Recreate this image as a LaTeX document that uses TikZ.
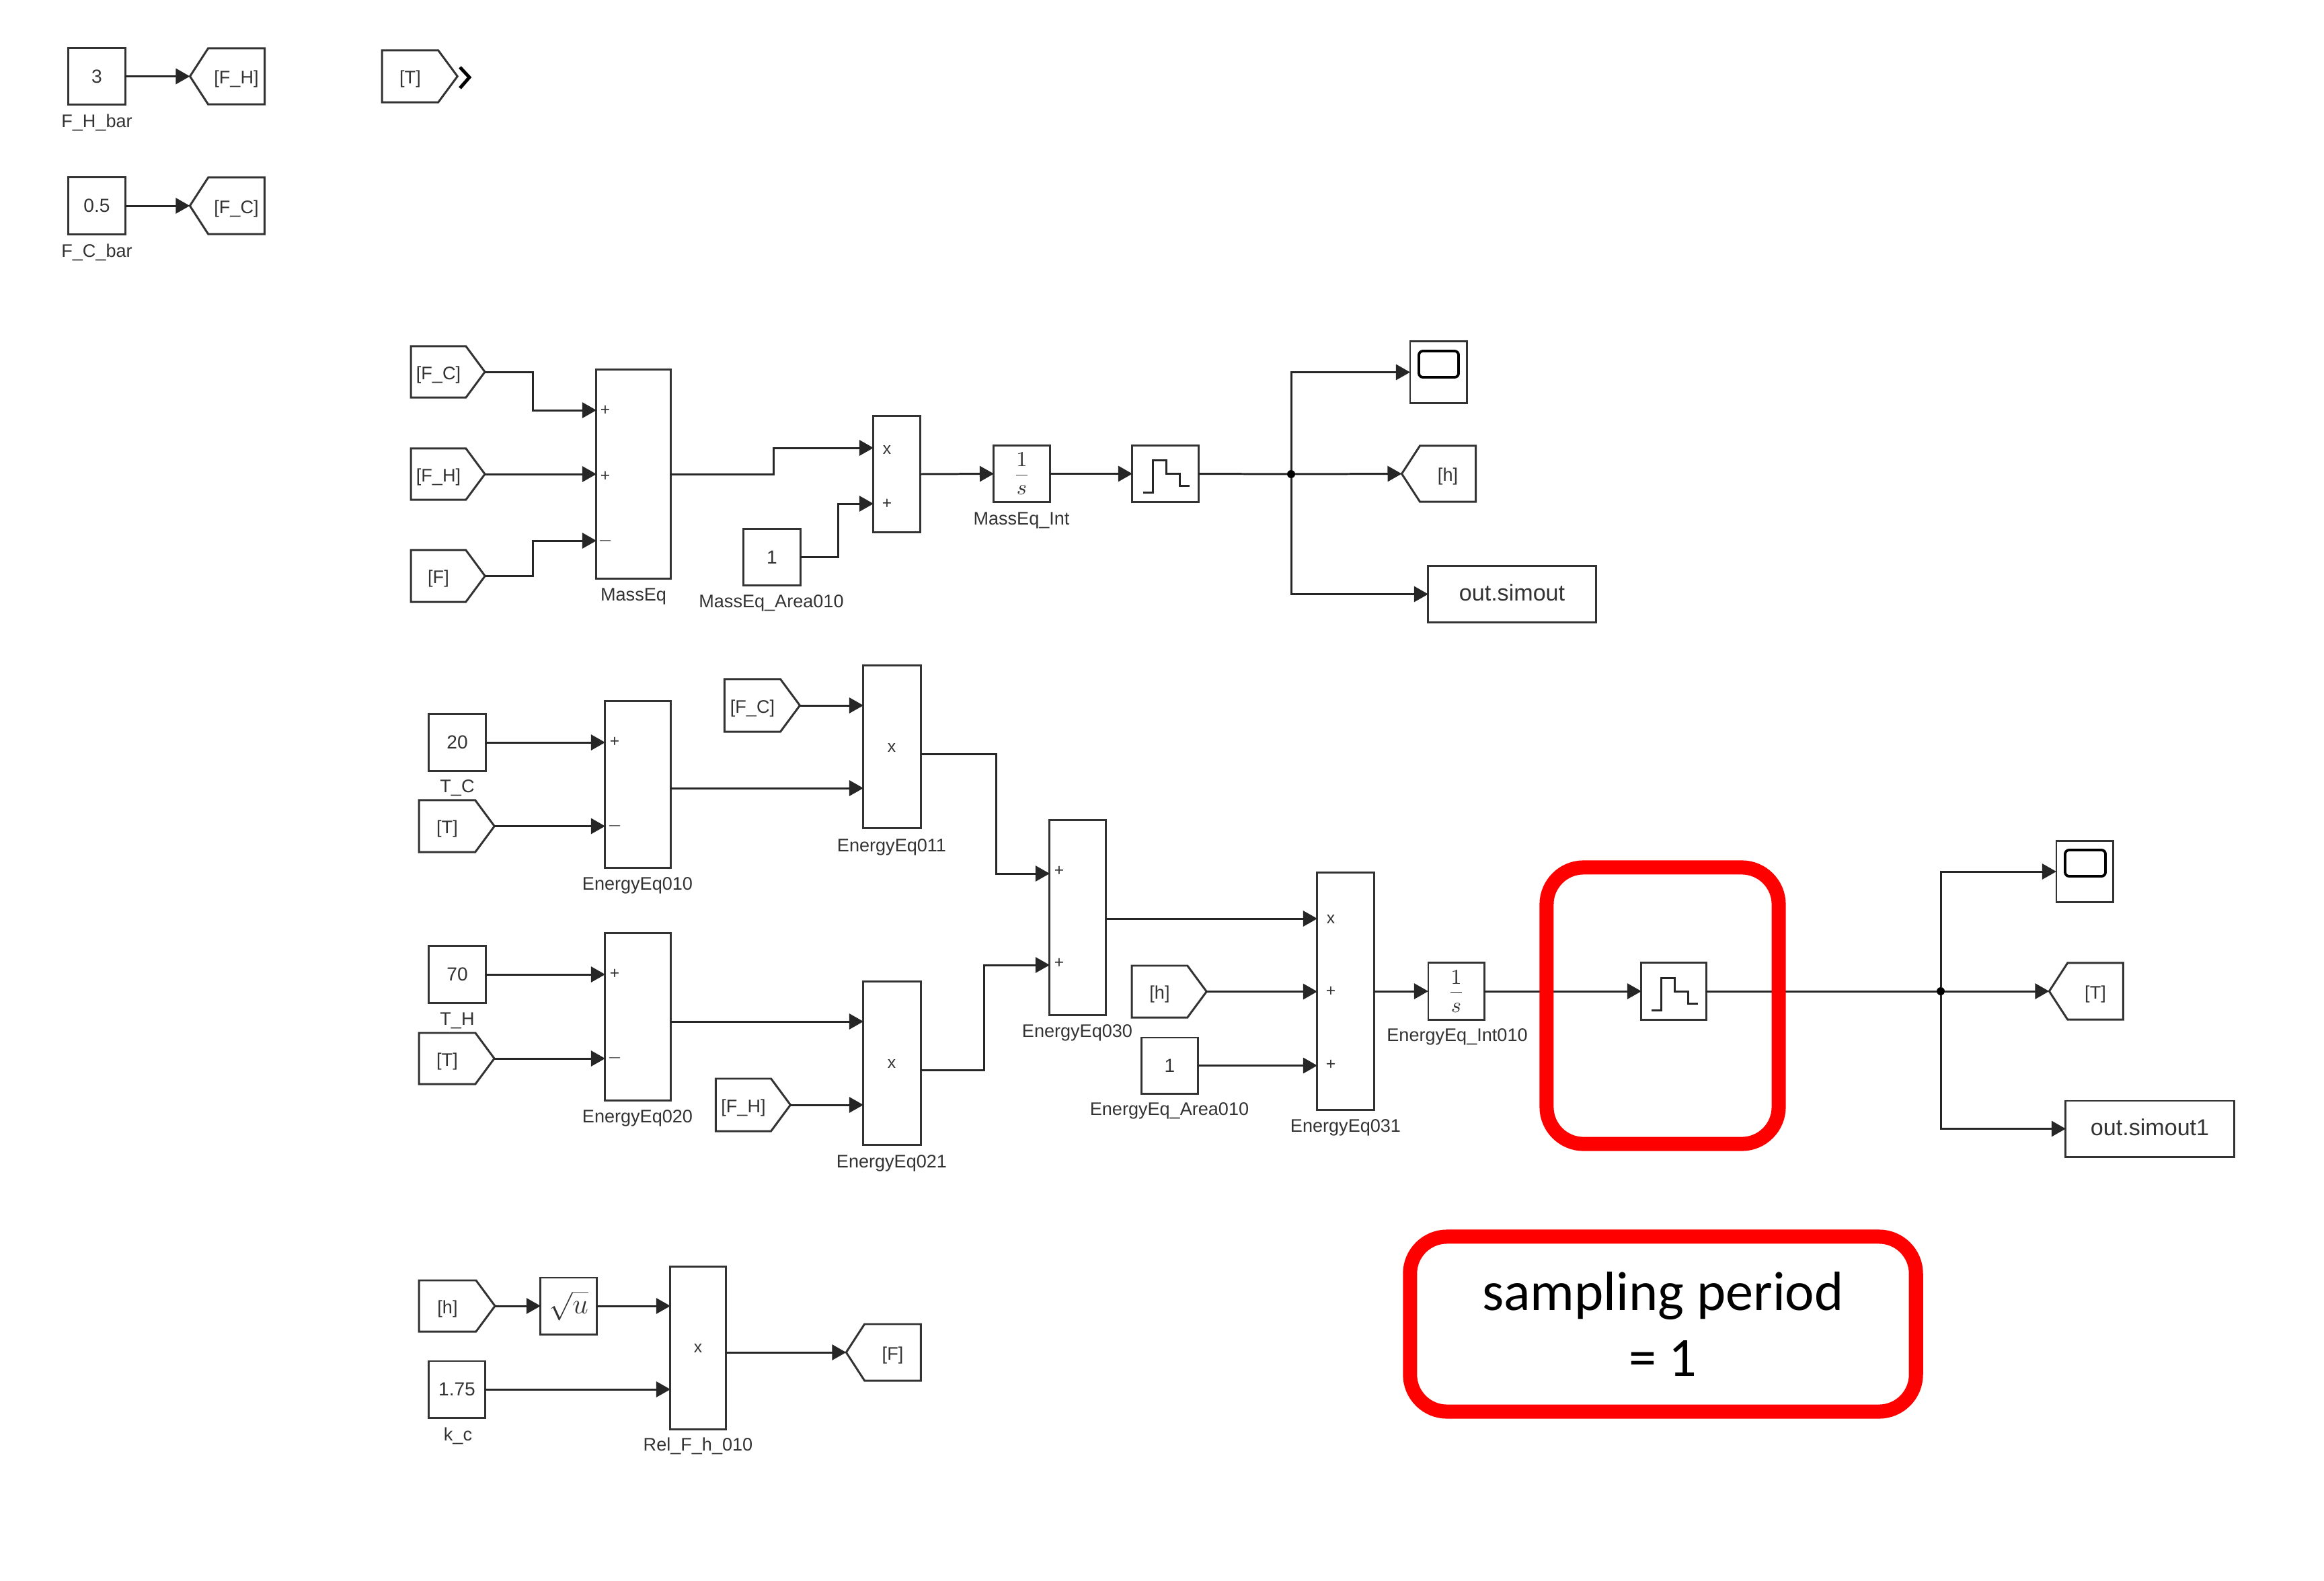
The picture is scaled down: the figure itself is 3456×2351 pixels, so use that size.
\documentclass[tikz,border=0pt]{standalone}
\usepackage{amsmath}
\usepackage{fontspec}
\setmainfont{Liberation Sans}
\newfontfamily\calfont{Carlito}
\usetikzlibrary{arrows.meta,shapes.symbols,shapes.geometric}
\definecolor{simgray}{gray}{0.2}
\tikzset{
blk/.style={draw=simgray,line width=0.85pt,rectangle,inner sep=0pt,outer sep=0pt,text=simgray,font=\fontsize{8}{10}\selectfont},
gotoblk/.style={blk,signal,signal to=west,signal pointer angle=114,xshift=0.14cm,text height=0.27cm,text depth=0.05cm,font=\fontsize{7.7}{9}\selectfont},
fromblk/.style={blk,signal,signal to=east,signal pointer angle=107,xshift=-0.15cm,text height=0.27cm,text depth=0.05cm,font=\fontsize{7.7}{9}\selectfont},
outblk/.style={blk,text height=0.29cm,text depth=0.1cm,font=\fontsize{9.7}{11}\selectfont},
intblk/.style={blk,font=\fontsize{9.5}{11}\selectfont},
lab/.style={inner sep=0pt,outer sep=0pt,text=simgray,font=\fontsize{7.7}{9}\selectfont},
sign/.style={inner sep=0pt,outer sep=0pt,text=simgray,font=\fontsize{7}{8}\selectfont},
wire/.style={line width=0.85pt,draw=black!85},
stair/.style={line width=0.85pt,draw=black!85},
jct/.style={circle,fill=black,inner sep=0pt,outer sep=0pt,minimum size=0.12cm},
screen/.style={draw=black,line width=1.1pt,rectangle,rounded corners=0.06cm,inner sep=0pt,outer sep=0pt},
redbox/.style={draw=red,line width=0.21cm,rectangle,rounded corners=0.55cm,inner sep=0pt,outer sep=0pt,align=center}
}
\newcommand{\zohstair}[1]{\draw[stair](#1)++(-33,28)--++(14,0)--++(0,-48)--++(20,0)--++(0,20)--++(20,0)--++(0,18)--++(15,0);}
\begin{document}
\begin{tikzpicture}[>={Stealth[length=0.21cm,width=0.23cm,inset=0pt]},x=0.01cm,y=-0.01cm]
\useasboundingbox(0,-2)rectangle(3456,2349);
% constants at the top
\node[blk,minimum width=0.84cm,minimum height=0.83cm](constFH)at(144,111.5){3};
\node[gotoblk,minimum width=1.11cm,minimum height=0.83cm](gotoFH)at(337.5,111.5){[F\_H]};
\node[blk,minimum width=0.84cm,minimum height=0.84cm](constFC)at(144,304){0.5};
\node[gotoblk,minimum width=1.11cm,minimum height=0.84cm](gotoFC)at(337.5,304){[F\_C]};
\node[fromblk,minimum width=1.12cm,minimum height=0.77cm](fromTtop)at(625,111.5){[T]};
\node[lab](labFH)at(144,180){F\_H\_bar};
\node[lab](labFC)at(144,373){F\_C\_bar};
\draw[wire,->](constFH.east)--(gotoFH.west);
\draw[wire,->](constFC.east)--(gotoFC.west);
\draw[line width=1.4pt](684,98)--(698,113)--(684,129);
% mass balance
\node[fromblk,minimum width=1.10cm,minimum height=0.76cm](fromFCa)at(667,551){[F\_C]};
\node[fromblk,minimum width=1.10cm,minimum height=0.76cm](fromFHa)at(667,703){[F\_H]};
\node[fromblk,minimum width=1.10cm,minimum height=0.77cm](fromF)at(667,854.5){[F]};
\node[blk,minimum width=1.10cm,minimum height=3.10cm](massEq)at(942,703){};
\node[blk,minimum width=0.69cm,minimum height=1.72cm](mulMass)at(1333.5,703){};
\node[blk,minimum width=0.84cm,minimum height=0.83cm](constMass)at(1148,826.5){1};
\node[intblk,minimum width=0.83cm,minimum height=0.83cm](intMass)at(1519.5,702.5){$\displaystyle\frac{1}{s}$};
\node[blk,minimum width=0.98cm,minimum height=0.83cm](zohMass)at(1733,702.5){};
\zohstair{zohMass}
\node[jct](jctMass)at(1920,703){};
\node[blk,minimum width=0.84cm,minimum height=0.91cm](scopeMass)at(2139,551.5){};
\node[screen,minimum width=0.59cm,minimum height=0.39cm](screenMass)at(2139.5,539.5){};
\node[gotoblk,minimum width=1.10cm,minimum height=0.83cm](gotoH)at(2139,702.5){[h]};
\node[outblk,minimum width=2.49cm,minimum height=0.83cm](outMass)at(2248.5,881.5){out.simout};
\node[sign]at(900,608){+};
\node[sign]at(900,706){+};
\node[sign]at(900,802){$-$};
\node[sign]at(1319,667){x};
\node[sign]at(1319,747){+};
\node[lab](labMass)at(942,885){MassEq};
\node[lab](labArea)at(1147,895){MassEq\_Area010};
\node[lab](labInt)at(1519,772){MassEq\_Int};
\draw[wire,->](fromFCa.east)-|(792,608)--(massEq.west|-0,608);
\draw[wire,->](fromFHa.east)--(massEq.west|-fromFHa.east);
\draw[wire,->](fromF.east)-|(792,802)--(massEq.west|-0,802);
\draw[wire,->](massEq.east)-|(1150,664)--(mulMass.west|-0,664);
\draw[wire,->](constMass.east)-|(1246,747)--(mulMass.west|-0,747);
\draw[wire,->](mulMass.east)--(intMass.west);
\draw[wire,->](intMass.east)--(zohMass.west);
\draw[wire](zohMass.east)--(jctMass);
\draw[wire,->](jctMass)|-(scopeMass.west);
\draw[wire,->](jctMass)--(gotoH.west);
\draw[wire,->](jctMass)|-(outMass.west);
% energy balance
\node[lab](labTC)at(680,1170){T\_C};
\node[lab](labTH)at(680,1516){T\_H};
\node[blk,minimum width=0.84cm,minimum height=0.84cm](constTC)at(680,1102){20};
\node[fromblk,minimum width=1.12cm,minimum height=0.77cm](fromTa)at(680,1226.5){[T]};
\node[blk,minimum width=0.97cm,minimum height=2.47cm](sumTen)at(948.5,1164.5){};
\node[fromblk,minimum width=1.12cm,minimum height=0.78cm](fromFCb)at(1134,1047){[F\_C]};
\node[blk,minimum width=0.85cm,minimum height=2.41cm](mulEleven)at(1326.5,1108.5){};
\node[blk,minimum width=0.84cm,minimum height=0.84cm](constTH)at(680,1447){70};
\node[fromblk,minimum width=1.12cm,minimum height=0.76cm](fromTb)at(680,1572){[T]};
\node[blk,minimum width=0.97cm,minimum height=2.48cm](sumTwenty)at(948.5,1510){};
\node[fromblk,minimum width=1.11cm,minimum height=0.78cm](fromFHb)at(1120.5,1641){[F\_H]};
\node[blk,minimum width=0.85cm,minimum height=2.42cm](mulTwentyOne)at(1326.5,1579){};
\node[blk,minimum width=0.83cm,minimum height=2.89cm](sumThirty)at(1602.5,1362.5){};
\node[fromblk,minimum width=1.11cm,minimum height=0.77cm](fromH)at(1739.5,1472.5){[h]};
\node[blk,minimum width=0.83cm,minimum height=0.83cm](constEnergy)at(1739.5,1582.5){1};
\node[blk,minimum width=0.84cm,minimum height=3.52cm](mulThirtyOne)at(2001,1472){};
\node[intblk,minimum width=0.83cm,minimum height=0.84cm](intEnergy)at(2165.5,1472){$\displaystyle\frac{1}{s}$};
\node[blk,minimum width=0.96cm,minimum height=0.84cm](zohEnergy)at(2489,1472){};
\zohstair{zohEnergy}
\node[jct](jctEnergy)at(2886,1472){};
\node[blk,minimum width=0.84cm,minimum height=0.90cm](scopeEnergy)at(3100,1294){};
\node[screen,minimum width=0.60cm,minimum height=0.39cm](screenEnergy)at(3101,1281.5){};
\node[gotoblk,minimum width=1.10cm,minimum height=0.84cm](gotoT)at(3102,1472){[T]};
\node[outblk,minimum width=2.50cm,minimum height=0.83cm](outEnergy)at(3197,1676.5){out.simout1};
\node[sign]at(914,1101){+};
\node[sign]at(914,1226){$-$};
\node[sign]at(914,1446){+};
\node[sign]at(914,1571){$-$};
\node[sign]at(1326,1110){x};
\node[sign]at(1326,1580){x};
\node[sign]at(1575,1293){+};
\node[sign]at(1575,1430){+};
\node[sign]at(1979,1365){x};
\node[sign]at(1979,1472){+};
\node[sign]at(1979,1581){+};
\node[lab](labTen)at(948,1315){EnergyEq010};
\node[lab](labEleven)at(1326,1258){EnergyEq011};
\node[lab](labTwenty)at(948,1661){EnergyEq020};
\node[lab](labTwentyOne)at(1326,1728){EnergyEq021};
\node[lab](labThirty)at(1602,1534){EnergyEq030};
\node[lab](labThirtyOne)at(2001,1675){EnergyEq031};
\node[lab](labAreaE)at(1739,1650){EnergyEq\_Area010};
\node[lab](labIntE)at(2167,1540){EnergyEq\_Int010};
\draw[wire,->](constTC.east)--(sumTen.west|-constTC.east);
\draw[wire,->](fromTa.east)--(sumTen.west|-fromTa.east);
\draw[wire,->](constTH.east)--(sumTwenty.west|-constTH.east);
\draw[wire,->](fromTb.east)--(sumTwenty.west|-fromTb.east);
\draw[wire,->](fromFCb.east)--(mulEleven.west|-fromFCb.east);
\draw[wire,->](sumTen.east|-0,1170)--(mulEleven.west|-0,1170);
\draw[wire,->](sumTwenty.east|-0,1517)--(mulTwentyOne.west|-0,1517);
\draw[wire,->](fromFHb.east)--(mulTwentyOne.west|-fromFHb.east);
\draw[wire,->](mulEleven.east|-0,1119)-|(1481,1297)--(sumThirty.west|-0,1297);
\draw[wire,->](mulTwentyOne.east|-0,1589)-|(1463,1433)--(sumThirty.west|-0,1433);
\draw[wire,->](sumThirty.east|-0,1364)--(mulThirtyOne.west|-0,1364);
\draw[wire,->](fromH.east)--(mulThirtyOne.west|-fromH.east);
\draw[wire,->](constEnergy.east)--(mulThirtyOne.west|-constEnergy.east);
\draw[wire,->](mulThirtyOne.east)--(intEnergy.west);
\draw[wire,->](intEnergy.east)--(zohEnergy.west);
\draw[wire](zohEnergy.east)--(jctEnergy);
\draw[wire,->](jctEnergy)|-(scopeEnergy.west);
\draw[wire,->](jctEnergy)--(gotoT.west);
\draw[wire,->](jctEnergy)|-(outEnergy.west);
% valve relation
\node[fromblk,minimum width=1.13cm,minimum height=0.76cm](fromHb)at(680.5,1940){[h]};
\node[blk,minimum width=0.83cm,minimum height=0.84cm,font=\fontsize{12}{14}\selectfont](sqrtH)at(845.5,1940){$\sqrt{u}$};
\node[blk,minimum width=0.83cm,minimum height=0.84cm](constK)at(679.5,2064){1.75};
\node[blk,minimum width=0.82cm,minimum height=2.41cm](mulF)at(1038,2002.5){};
\node[gotoblk,minimum width=1.11cm,minimum height=0.84cm](gotoF)at(1313.5,2009){[F]};
\node[sign]at(1038,2003){x};
\node[lab](labK)at(681,2133){k\_c};
\node[lab](labRel)at(1038,2148){Rel\_F\_h\_010};
\draw[wire,->](fromHb.east)--(sqrtH.west);
\draw[wire,->](sqrtH.east)--(mulF.west|-sqrtH.east);
\draw[wire,->](constK.east)--(mulF.west|-constK.east);
\draw[wire,->](mulF.east|-gotoF.west)--(gotoF.west);
% red marks
\node[redbox,minimum width=3.45cm,minimum height=4.11cm](markZoh)at(2472.5,1493.5){};
\node[redbox,minimum width=7.52cm,minimum height=2.60cm,font=\calfont\fontsize{23.4}{28}\selectfont](markPeriod)at(2473,1967){sampling period\\= 1};
\end{tikzpicture}
\end{document}
